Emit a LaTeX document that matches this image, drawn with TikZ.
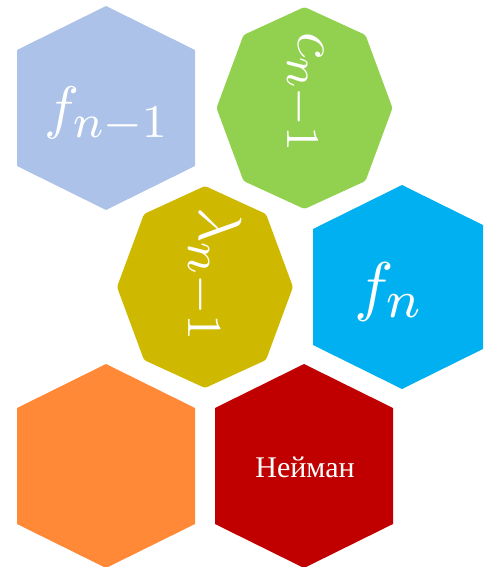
\documentclass[tikz,border=0pt]{standalone}
\usepackage{fontspec}
\newfontfamily\cyrserif{Liberation Serif}
\DeclareMathSizes{10}{10}{8.5}{7}
\definecolor{cellblue}{RGB}{172,194,232}
\definecolor{cellgreen}{RGB}{146,208,80}
\definecolor{cellolive}{RGB}{207,184,0}
\definecolor{cellcyan}{RGB}{0,176,240}
\definecolor{cellorange}{RGB}{255,137,55}
\definecolor{cellred}{RGB}{192,0,0}
\begin{document}
\begin{tikzpicture}[x=1pt,y=-1pt,
  hexcell/.style={fill=#1},
  octcell/.style={fill=#1, rounded corners=2.5pt},
  celltext/.style={text=white, inner sep=0pt, anchor=base, font=\normalsize, scale=#1},
  cyrtext/.style={text=white, inner sep=0pt, font=\cyrserif\fontsize{30}{32}\selectfont}]
\useasboundingbox (0,0) rectangle (483,567);
\clip (0,0) rectangle (483,567);
% hexagons
\foreach \cx/\cy/\col in {106/108/cellblue, 402/287/cellcyan, 106/466/cellorange, 304/466/cellred}{
  \fill[hexcell=\col] (\cx,\cy-102) -- (\cx+89,\cy-58) -- (\cx+89,\cy+58) -- (\cx,\cy+102)
    -- (\cx-89,\cy+58) -- (\cx-89,\cy-58) -- cycle;
}
% octagons
\foreach \cx/\cy/\col in {304.5/108/cellgreen, 205/287/cellolive}{
  \fill[octcell=\col] (\cx,\cy-101) -- (\cx+61,\cy-73) -- (\cx+88,\cy) -- (\cx+61,\cy+73)
    -- (\cx,\cy+101) -- (\cx-61,\cy+73) -- (\cx-88,\cy) -- (\cx-61,\cy-73) -- cycle;
}
\node[celltext=5.85] (fprev) at (107,127.7) {$f_{n-1}$};
\node[celltext=5.85, rotate=-90] (cprev) at (298,93) {$c_{n-1}$};
\node[celltext=6.1, rotate=-90] (lprev) at (199,275.5) {$\lambda_{n-1}$};
\node[celltext=6.6] (fcur) at (389,308) {$f_{n}$};
\node[cyrtext] (neuman) at (305,467) {Нейман};
\end{tikzpicture}
\end{document}
